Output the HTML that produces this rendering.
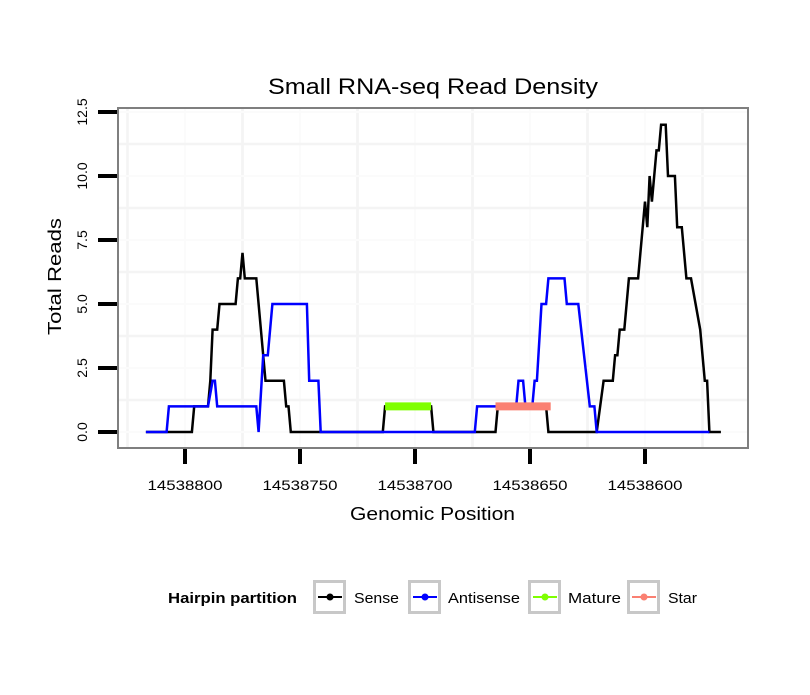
<!DOCTYPE html>
<html><head><meta charset="utf-8">
<style>
body{margin:0;background:#fff;font-family:"Liberation Sans",sans-serif;}
svg text{font-family:"Liberation Sans",sans-serif;}
</style></head>
<body>
<svg id="chart" width="810" height="690" xmlns="http://www.w3.org/2000/svg">
<rect x="0" y="0" width="810" height="690" fill="#fff"/>
<g id="grid"></g>
<g id="series"></g>
<rect x="118" y="108" width="630" height="340" fill="none" stroke="#7f7f7f" stroke-width="2"/>
<g id="axes"></g>
<text x="268" y="94" font-size="22" textLength="330" lengthAdjust="spacingAndGlyphs" fill="#000">Small RNA-seq Read Density</text>
<text x="350" y="520" font-size="18" textLength="165" lengthAdjust="spacingAndGlyphs" fill="#000">Genomic Position</text>
<text transform="translate(61,335) rotate(-90)" font-size="18" textLength="117" lengthAdjust="spacingAndGlyphs" fill="#000">Total Reads</text>
<g id="legend"></g>
</svg>
<script>
const xTicks = [14538800, 14538750, 14538700, 14538650, 14538600];
const xTickLabels = ["14538800", "14538750", "14538700", "14538650", "14538600"];
const yTicks = [0, 2.5, 5, 7.5, 10, 12.5];
const yTickLabels = ["0.0", "2.5", "5.0", "7.5", "10.0", "12.5"];

const senseX = [14538817,14538797,14538796,14538790,14538789,14538788,14538786,14538785,14538778,14538777,14538776,14538775,14538774,14538769,14538765,14538757,14538756,14538755,14538754,14538714,14538713,14538693,14538692,14538665,14538664,14538643,14538642,14538621,14538618,14538614,14538613,14538612,14538611,14538609,14538607,14538603,14538600,14538599,14538598,14538597,14538595,14538594,14538593,14538591,14538590,14538587,14538586,14538584,14538582,14538580,14538578,14538576,14538574,14538573,14538572,14538567];
const senseY = [0,0,1,1,2,4,4,5,5,6,6,7,6,6,2,2,1,1,0,0,1,1,0,0,1,1,0,0,2,2,3,3,4,4,6,6,9,8,10,9,11,11,12,12,10,10,8,8,6,6,5,4,2,2,0,0];

const antisenseX = [14538817,14538808,14538807,14538790,14538788,14538787,14538786,14538769,14538768,14538766,14538764,14538762,14538747,14538746,14538742,14538741,14538674,14538673,14538656,14538655,14538653,14538652,14538649,14538648,14538647,14538645,14538643,14538642,14538635,14538634,14538629,14538624,14538622,14538621,14538572];
const antisenseY = [0,0,1,1,2,2,1,1,0,3,3,5,5,2,2,0,0,1,1,2,2,1,1,2,2,5,5,6,6,5,5,1,1,0,0];

const matureX = [14538713,14538693];
const matureY = [1,1];
const starX = [14538665,14538641];
const starY = [1,1];

const X0 = 185, PX_PER_BP = 2.3, Y0 = 432, PX_PER_UNIT = 25.6;
function xs(p){ return X0 + (14538800 - p) * PX_PER_BP; }
function ys(v){ return Y0 - v * PX_PER_UNIT; }
const NS = "http://www.w3.org/2000/svg";
function mk(tag, attrs, parent){
  const e = document.createElementNS(NS, tag);
  for (const k in attrs) e.setAttribute(k, attrs[k]);
  parent.appendChild(e);
  return e;
}
const grid = document.getElementById('grid');
const axes = document.getElementById('axes');
const series = document.getElementById('series');

for (let i = 0; i < xTicks.length; i++) {
  const x = xs(xTicks[i]);
  const g = mk('line', {x1:x, x2:x, y1:108, y2:448, stroke:'#fbfbfb', 'stroke-width':2}, grid);
  
  
  for (const xm of [x - 57.5, x + 57.5]) {
    if (xm > 118 && xm < 748) {
      const m = mk('line', {x1:xm, x2:xm, y1:108, y2:448, stroke:'#f4f4f4', 'stroke-width':2.5}, grid);
      
      
    }
  }
}
for (let i = 0; i < yTicks.length; i++) {
  const y = ys(yTicks[i]);
  const g = mk('line', {x1:118, x2:748, y1:y, y2:y, stroke:'#fbfbfb', 'stroke-width':2}, grid);
  
  
  const ym = ys(yTicks[i] + 1.25);
  if (ym > 108) {
    const m = mk('line', {x1:118, x2:748, y1:ym, y2:ym, stroke:'#f4f4f4', 'stroke-width':2.5}, grid);
    
    
  }
}

for (let i = 0; i < yTicks.length; i++) {
  const y = ys(yTicks[i]);
  const t = mk('line', {x1:98, x2:117, y1:y, y2:y, stroke:'#000', 'stroke-width':4}, axes);
  
  
  const l = mk('text', {transform:`translate(87,${y}) rotate(-90)`, 'font-size':14, 'text-anchor':'middle', fill:'#000'}, axes);
  l.textContent = yTickLabels[i];
  
  
}
for (let i = 0; i < xTicks.length; i++) {
  const x = xs(xTicks[i]);
  const t = mk('line', {x1:x, x2:x, y1:449, y2:464, stroke:'#000', 'stroke-width':4}, axes);
  
  
  const l = mk('text', {x:x - 37.5, y:490, 'font-size':14, textLength:75, lengthAdjust:'spacingAndGlyphs', fill:'#000'}, axes);
  l.textContent = xTickLabels[i];
  
  
}

function drawLine(xArr, yArr, color, width, name){
  const pts = xArr.map((p, i) => xs(p).toFixed(1) + ',' + ys(yArr[i]).toFixed(1)).join(' ');
  const pl = mk('polyline', {points:pts, fill:'none', stroke:color, 'stroke-width':width, 'stroke-linejoin':'miter'}, series);
  
  
}
drawLine(senseX, senseY, '#000', 2.5, 'sense-line');
drawLine(antisenseX, antisenseY, '#0000ff', 2.5, 'antisense-line');
drawLine(matureX, matureY, '#7fff00', 8, 'mature-line');
drawLine(starX, starY, '#fa8072', 8, 'star-line');

const leg = document.getElementById('legend');
const lt = mk('text', {x:168, y:603, 'font-size':15, 'font-weight':'bold', textLength:129, lengthAdjust:'spacingAndGlyphs', fill:'#000'}, leg);
lt.textContent = 'Hairpin partition';


const legItems = [
  {name:'Sense', color:'#000', bx:313, tx:354, w:45},
  {name:'Antisense', color:'#0000ff', bx:408, tx:448, w:72},
  {name:'Mature', color:'#7fff00', bx:528, tx:568, w:53},
  {name:'Star', color:'#fa8072', bx:627, tx:668, w:29}
];
for (const it of legItems) {
  const g = mk('g', {}, leg);
  
  
  mk('rect', {x:it.bx+1.5, y:581.5, width:30, height:31, fill:'#fff', stroke:'#c8c8c8', 'stroke-width':3}, g);
  mk('line', {x1:it.bx+5, x2:it.bx+29, y1:597, y2:597, stroke:it.color, 'stroke-width':2}, g);
  mk('circle', {cx:it.bx+17, cy:597, r:3.5, fill:it.color}, g);
  const t = mk('text', {x:it.tx, y:603, 'font-size':15, textLength:it.w, lengthAdjust:'spacingAndGlyphs', fill:'#000'}, g);
  t.textContent = it.name;
}
</script>
</body></html>
